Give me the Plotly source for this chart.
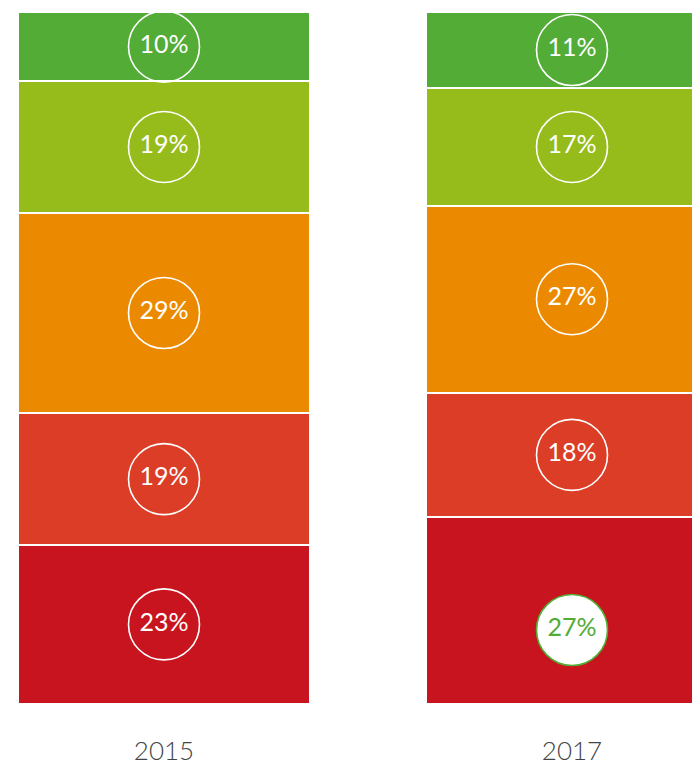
import numpy as np
import plotly.graph_objects as go

years = ["2015", "2017"]
# segment values, bottom to top
seg_names = ["s1", "s2", "s3", "s4", "s5"]
vals_2015 = [23, 19, 29, 19, 10]
vals_2017 = [27, 18, 27, 17, 11]

colors = ["#C8141E", "#DB3D26", "#EB8A00", "#96BC1C", "#52AC36"]
highlight = ("2017", 0)  # year, segment index with white circle
highlight_shift = -2.8   # vertical nudge of the highlighted circle (axis units)

series = {"2015": vals_2015, "2017": vals_2017}
xpos = {"2015": 0, "2017": 1}

fig = go.Figure()
for i, name in enumerate(seg_names):
    fig.add_trace(go.Bar(
        x=[xpos[y] for y in years],
        y=[series[y][i] for y in years],
        width=0.7157,
        marker=dict(color=colors[i], line=dict(color="white", width=2)),
        hoverinfo="skip", showlegend=False,
    ))

font_fam = "Lato, 'Open Sans', sans-serif"
for y in years:
    v = np.array(series[y], dtype=float)
    cum = np.cumsum(v)
    centers = cum - v / 2
    for i in range(len(v)):
        hl = (y, i) == highlight
        cy = centers[i] + (highlight_shift if hl else 0)
        fig.add_trace(go.Scatter(
            x=[xpos[y]], y=[cy],
            mode="markers+text",
            text=[f"{int(v[i])}%"],
            textposition="middle center",
            textfont=dict(family=font_fam, size=25, weight=400,
                          color="#52AC36" if hl else "white"),
            marker=dict(size=71,
                        color="white" if hl else "rgba(0,0,0,0)",
                        line=dict(color="#52AC36" if hl else "white", width=1.6)),
            hoverinfo="skip", showlegend=False,
        ))

fig.update_layout(
    width=692, height=757,
    barmode="stack", bargap=0,
    margin=dict(l=0, r=0, t=4, b=61),
    plot_bgcolor="white", paper_bgcolor="white",
    xaxis=dict(range=[-0.38235, 1.31373], tickvals=[0, 1], ticktext=years,
               showgrid=False, zeroline=False, showline=False, automargin=False,
               tickfont=dict(family=font_fam, size=26, weight=300, color="#444444"),
               ticks="", ticklabelstandoff=29),
    yaxis=dict(range=[0, 100], visible=False, showgrid=False, zeroline=False,
               automargin=False),
)
fig.write_html("out.html")
